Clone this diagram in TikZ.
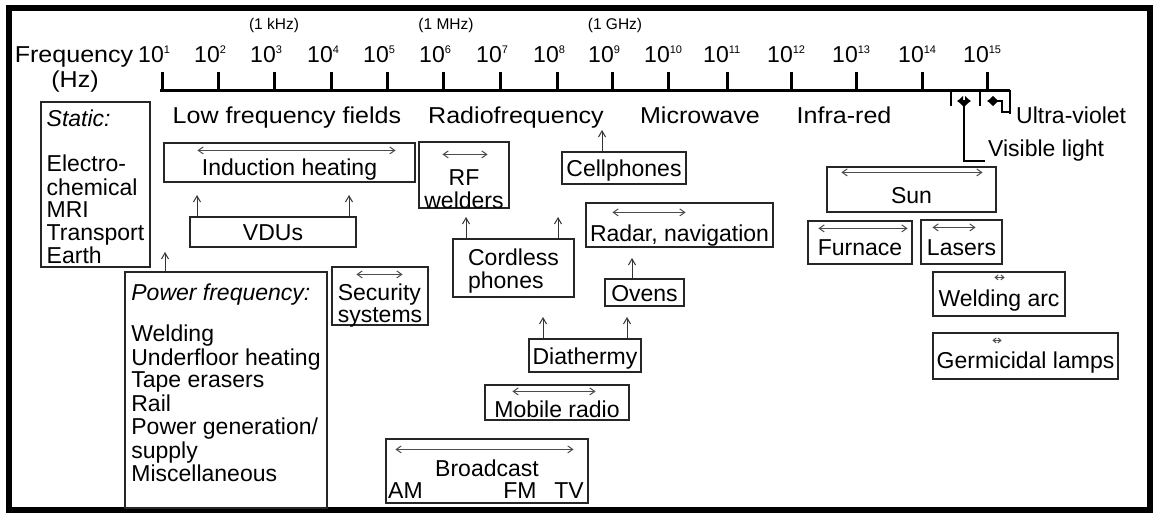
\documentclass[tikz,border=0pt]{standalone}
\usepackage{fontspec}
\setmainfont{Liberation Sans}
\newfontfamily\widefont[FakeStretch=1.09]{Liberation Sans}
\usetikzlibrary{arrows.meta}

\newcommand{\lab}{\fontsize{23}{22.5}\selectfont}
\newcommand{\wlab}{\widefont\fontsize{23}{22.5}\selectfont}
\newcommand{\sml}{\fontsize{15.5}{15.5}\selectfont}
\newcommand{\pw}[1]{10\rlap{\raisebox{8.5pt}{\fontsize{11}{11}\selectfont #1}}}
\newcommand{\cstack}[1]{\begin{tabular}[t]{@{}c@{}}#1\end{tabular}}
\newcommand{\lstack}[1]{\begin{tabular}[t]{@{}l@{}}#1\end{tabular}}

\tikzset{
  tagbox/.style n args={3}{draw=black!85, line width=1.2pt, inner sep=0pt, font=\lab,
    minimum width=#1pt, text height=#2pt, text depth=#3pt},
  txt/.style={inner sep=0pt, font=\lab, anchor=base},
  rangearrow/.style={{Straight Barb[length=5pt,width=7pt]}-{Straight Barb[length=5pt,width=7pt]}, black!70, line width=1pt},
  tinyarrow/.style={{Straight Barb[length=3pt,width=5pt]}-{Straight Barb[length=3pt,width=5pt]}, black!70, line width=1pt},
  pointarrow/.style={-{Straight Barb[length=6pt,width=7pt]}, black!80, line width=1pt},
  blob/.style={{Latex[length=6pt,width=11pt]}-{Latex[length=6pt,width=11pt]}, line width=2.5pt},
}

\begin{document}
\begin{tikzpicture}[x=1pt, y=-1pt]
\useasboundingbox (0,0) rectangle (1153,512);
\draw[line width=6pt] (9,7.5) rectangle (1149.5,509.5);

% frequency axis
\node[txt, font=\wlab] (freq) at (74,62) {Frequency};
\node[txt, font=\wlab] (hz) at (75,87) {(Hz)};
\draw[line width=3pt] (160,90) -- (1010,90);
\foreach \x/\e in {162/1, 218/2, 274/3, 331/4, 387/5, 443/6, 500/7, 557/8, 612/9,
                   668/10, 727/11, 791/12, 856/13, 922/14, 987/15} {
  \draw[line width=3pt] (\x,72) -- (\x,90);
  \node[txt, anchor=base east] (e\e) at (\x+2,62) {\pw{\e}};
}
\node[txt, font=\sml] (khz) at (274,29) {(1 kHz)};
\node[txt, font=\sml] (mhz) at (446,29) {(1 MHz)};
\node[txt, font=\sml] (ghz) at (615,29) {(1 GHz)};

% visible and ultra-violet bands
\draw[line width=2.5pt] (951,90) -- (951,106);
\draw[line width=2.5pt] (980,90) -- (980,106);
\draw[line width=2.5pt] (1010,90) -- (1010,114);
\coordinate (vis) at (964,101);
\coordinate (uv) at (993,101);
\draw[blob] ([xshift=-7pt]vis) -- ([xshift=7pt]vis);
\draw[blob] ([xshift=-6pt]uv) -- ([xshift=6pt]uv);
\node[txt, anchor=base west] (uvlbl) at (1016,123) {Ultra-violet};
\node[txt, anchor=base west] (vislbl) at (988,156) {Visible light};
\draw[line width=2.5pt] (vis) |- ([shift={(-3pt,-5pt)}]vislbl.base west);
\draw[line width=2.5pt] (uv) -- ++(9,0) |- (1010,112);

% bands
\node[txt, font=\wlab] (lff) at (287,123) {Low frequency fields};
\node[txt, font=\wlab] (rf) at (516,123) {Radiofrequency};
\node[txt, font=\wlab] (mw) at (700,123) {Microwave};
\node[txt, font=\wlab] (ir) at (844,123) {Infra-red};

% sources
\node[tagbox={109}{24}{141}] (static) at (95.5,184.5)
  {\lstack{\textit{Static:}\\[22.5pt]Electro-\\chemical\\MRI\\Transport\\Earth}};
\node[tagbox={202}{28}{208}] (power) at (226,390)
  {\lstack{\textit{Power frequency:}\\[18.5pt]Welding\\Underfloor heating\\Tape erasers\\Rail\\Power generation/\\supply\\Miscellaneous}};
\node[tagbox={251}{32}{7}] (induct) at (289.5,162.5) {Induction heating};
\node[tagbox={166}{23}{7}] (vdu) at (273,232) {VDUs};
\node[tagbox={96}{33}{25}] (secur) at (380,296) {\lstack{Security\\systems}};
\node[tagbox={90}{43}{23}] (rfw) at (464,175) {\cstack{RF\\welders}};
\node[tagbox={124}{24}{8}] (cell) at (624,168) {Cellphones};
\node[tagbox={187}{38}{6}] (radar) at (679.5,225) {Radar, navigation};
\node[tagbox={121}{26}{32}] (cordless) at (513.5,268) {\lstack{Cordless\\phones}};
\node[tagbox={79}{22}{5}] (ovens) at (644.5,292.5) {Ovens};
\node[tagbox={112}{25}{8}] (diath) at (585,355.5) {Diathermy};
\node[tagbox={144}{32}{3}] (mobile) at (557,402.5) {Mobile radio};
\node[tagbox={202}{37}{27}] (bcast) at (487,471) {Broadcast};
\node[txt, anchor=base west] (am) at (388,498) {AM};
\node[txt] (fm) at (520,498) {FM};
\node[txt] (tv) at (569,498) {TV};
\node[tagbox={169}{36}{9}] (sun) at (911.5,189.5) {Sun};
\node[tagbox={104}{34}{9}] (furnace) at (860,242.5) {Furnace};
\node[tagbox={81}{35}{9}] (lasers) at (961.5,242) {Lasers};
\node[tagbox={132}{34}{10}] (warc) at (999,294) {Welding arc};
\node[tagbox={185}{35}{11}] (germ) at (1025.5,356) {Germicidal lamps};

% ranges
\draw[rangearrow] ([shift={(34,8)}]induct.north west) -- ([shift={(-20,8)}]induct.north east);
\draw[rangearrow] ([shift={(25,8)}]secur.north west) -- ([shift={(-26,8)}]secur.north east);
\draw[rangearrow] ([shift={(24,13)}]rfw.north west) -- ([shift={(-22,13)}]rfw.north east);
\draw[rangearrow] ([shift={(27,10)}]radar.north west) -- ([shift={(-88,10)}]radar.north east);
\draw[rangearrow] ([shift={(28,7)}]mobile.north west) -- ([shift={(-34,7)}]mobile.north east);
\draw[rangearrow] ([shift={(10,11)}]bcast.north west) -- ([shift={(-15,11)}]bcast.north east);
\draw[rangearrow] ([shift={(15,6)}]sun.north west) -- ([shift={(-14,6)}]sun.north east);
\draw[rangearrow] ([shift={(11,8)}]furnace.north west) -- ([shift={(-5,8)}]furnace.north east);
\draw[rangearrow] ([shift={(12,8)}]lasers.north west) -- ([shift={(-27,8)}]lasers.north east);
\draw[tinyarrow] ([shift={(62,6)}]warc.north west) -- ([shift={(-61,6)}]warc.north east);
\draw[tinyarrow] ([shift={(60,8)}]germ.north west) -- ([shift={(-117,8)}]germ.north east);

% pointers
\coordinate (pf) at (165,252);
\coordinate (vduA) at (197,195);
\coordinate (vduB) at (349,195);
\coordinate (cordA) at (466,217);
\coordinate (cordB) at (558,217);
\coordinate (ovA) at (632,258);
\coordinate (diaA) at (543,317);
\coordinate (diaB) at (627,317);
\coordinate (cellA) at (602,130);
\draw[pointarrow] (power.north -| pf) -- (pf);
\draw[pointarrow] (vdu.north -| vduA) -- (vduA);
\draw[pointarrow] (vdu.north -| vduB) -- (vduB);
\draw[pointarrow] (cordless.north -| cordA) -- (cordA);
\draw[pointarrow] (cordless.north -| cordB) -- (cordB);
\draw[pointarrow] (ovens.north -| ovA) -- (ovA);
\draw[pointarrow] (diath.north -| diaA) -- (diaA);
\draw[pointarrow] (diath.north -| diaB) -- (diaB);
\draw[pointarrow] (cell.north -| cellA) -- (cellA);
\end{tikzpicture}
\end{document}
